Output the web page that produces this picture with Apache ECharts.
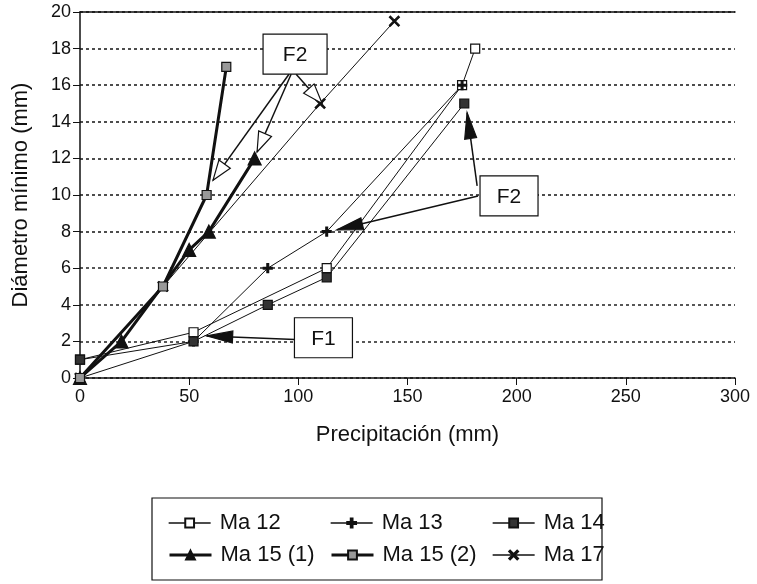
<!DOCTYPE html>
<html>
<head>
<meta charset="utf-8">
<script src="https://cdn.jsdelivr.net/npm/echarts@6/dist/echarts.min.js"></script>
<style>
  html, body { margin: 0; padding: 0; background: #fff; }
  #chart { width: 757px; height: 584px; }
</style>
</head>
<body>
<div id="chart"></div>
<script>
// datos: [precipitación, diámetro]
const ma12 = [[0, 1], [52, 2.5], [113, 6], [175, 16], [181, 18]]
const ma13 = [[0, 0], [52, 2], [86, 6], [113, 8], [175, 16]]
const ma14 = [[0, 1], [52, 2], [86, 4], [113, 5.5], [176, 15]]
const ma15a = [[0, 0], [19, 2], [50, 7], [59, 8], [80, 12]]
const ma15b = [[0, 0], [38, 5], [58, 10], [67, 17]]
const ma17 = [[0, 0], [38, 5], [110, 15], [144, 19.5]]
const seriesNames = ['Ma 12', 'Ma 13', 'Ma 14', 'Ma 15 (1)', 'Ma 15 (2)', 'Ma 17']
const xTicks = [0, 50, 100, 150, 200, 250, 300]
const yTicks = [0, 2, 4, 6, 8, 10, 12, 14, 16, 18, 20]

// anotaciones (coordenadas de datos): caja y flechas
const notes = [
  { text: 'F1', center: [111.5, 2.2], arrows: [{ from: [98.5, 2.1], to: [58, 2.3], open: false }] },
  { text: 'F2', center: [196.5, 9.95], arrows: [
    { from: [182.3, 9.95], to: [117.7, 8.1], open: false },
    { from: [181.9, 10.5], to: [177.3, 14.5], open: false }
  ] },
  { text: 'F2', center: [98.5, 17.7], arrows: [
    { from: [95.7, 16.6], to: [60.9, 10.8], open: true },
    { from: [96.7, 16.6], to: [81.1, 12.35], open: true },
    { from: [99, 16.6], to: [110.9, 15.0], open: true }
  ] }
]

const FONT = 'Liberation Sans'
const INK = '#111'
const plusPath = 'path://M4,0h2v4h4v2h-4v4h-2v-4h-4v-2h4z'
const crossPath = 'path://M0,1 L1,0 L5,4 L9,0 L10,1 L6,5 L10,9 L9,10 L5,6 L1,10 L0,9 L4,5 Z'

const chart = echarts.init(document.getElementById('chart'))

const mk = (name, data, width, symbol, size, fill) => ({
  name,
  type: 'line',
  data,
  symbol,
  symbolSize: size,
  showAllSymbol: true,
  animation: false,
  lineStyle: { color: INK, width },
  itemStyle: { color: fill, borderColor: INK, borderWidth: 1.2 },
  z: width > 2 ? 3 : 2
})

const series = [
  mk('Ma 12', ma12, 1, 'rect', 9, '#fff'),
  mk('Ma 13', ma13, 1, plusPath, 9, INK),
  mk('Ma 14', ma14, 1, 'rect', 9, '#333'),
  mk('Ma 15 (1)', ma15a, 3, 'triangle', 13, INK),
  mk('Ma 15 (2)', ma15b, 3, 'rect', 9, '#999'),
  mk('Ma 17', ma17, 1, crossPath, 10, INK)
]

// una leyenda por elemento, para alinear columnas como en el original
const legendPos = [[163, 507], [325, 507], [487, 507], [163, 539], [325, 539], [487, 539]]
const legends = seriesNames.map((n, i) => ({
  data: [n],
  left: legendPos[i][0],
  top: legendPos[i][1],
  itemWidth: 42,
  itemHeight: 11,
  itemGap: 0,
  selectedMode: false,
  lineStyle: { color: INK, width: i === 3 || i === 4 ? 3 : 1.3 },
  textStyle: { fontFamily: FONT, fontSize: 22, color: INK, padding: [0, 0, 0, 4] }
}))

chart.setOption({
  backgroundColor: '#fff',
  animation: false,
  grid: { left: 80, right: 22, top: 12, bottom: 206 },
  legend: legends,
  xAxis: [{
    type: 'value',
    min: xTicks[0],
    max: xTicks[xTicks.length - 1],
    interval: 50,
    name: 'Precipitación (mm)',
    nameLocation: 'middle',
    nameGap: 46,
    nameTextStyle: { fontFamily: FONT, fontSize: 22, color: INK },
    axisLine: { lineStyle: { color: INK, width: 1.5 } },
    axisTick: { lineStyle: { color: INK }, length: 7 },
    axisLabel: { fontFamily: FONT, fontSize: 18, color: INK, margin: 10 },
    splitLine: { show: false }
  }, {
    type: 'value',
    position: 'top',
    min: xTicks[0],
    max: xTicks[xTicks.length - 1],
    axisLine: { show: true, onZero: false, lineStyle: { color: INK, width: 1.5 } },
    axisTick: { show: false },
    axisLabel: { show: false },
    splitLine: { show: false }
  }],
  yAxis: {
    type: 'value',
    min: yTicks[0],
    max: yTicks[yTicks.length - 1],
    interval: 2,
    name: 'Diámetro mínimo (mm)',
    nameLocation: 'middle',
    nameGap: 48,
    nameTextStyle: { fontFamily: FONT, fontSize: 22, color: INK },
    axisLine: { show: true, lineStyle: { color: INK, width: 1.5 } },
    axisTick: { show: true, lineStyle: { color: INK }, length: 7 },
    axisLabel: { fontFamily: FONT, fontSize: 18, color: INK, margin: 9 },
    splitLine: { show: true, lineStyle: { color: '#222', width: 1.6, type: [3, 3] } }
  },
  series
})

// cajas y flechas de anotación, situadas con la escala de los ejes
const px = p => chart.convertToPixel({ gridIndex: 0 }, p)
const graphics = []

function arrowHead(tip, from, open) {
  const len = open ? 20 : 26
  const half = open ? 7 : 6
  const dx = tip[0] - from[0], dy = tip[1] - from[1]
  const d = Math.hypot(dx, dy)
  const ux = dx / d, uy = dy / d
  const bx = tip[0] - ux * len, by = tip[1] - uy * len
  return {
    type: 'polygon',
    shape: { points: [tip, [bx - uy * half, by + ux * half], [bx + uy * half, by - ux * half]] },
    style: { fill: open ? '#fff' : INK, stroke: INK, lineWidth: 1.2 },
    z: 20
  }
}

notes.forEach(n => {
  n.arrows.forEach(a => {
    const f = px(a.from), t = px(a.to)
    graphics.push({
      type: 'line',
      shape: { x1: f[0], y1: f[1], x2: t[0], y2: t[1] },
      style: { stroke: INK, lineWidth: 1.5 },
      z: 19
    })
    graphics.push(arrowHead(t, f, a.open))
  })
  const c = px(n.center)
  const w = n === notes[2] ? 64 : 58
  graphics.push({
    type: 'rect',
    shape: { x: c[0] - w / 2, y: c[1] - 20, width: w, height: 40 },
    style: { fill: '#fff', stroke: INK, lineWidth: 1.2 },
    z: 21
  })
  graphics.push({
    type: 'text',
    x: c[0], y: c[1] + 1,
    style: { text: n.text, font: '21px "Liberation Sans"', fill: INK, align: 'center', verticalAlign: 'middle' },
    z: 22
  })
})

// marco de la leyenda
graphics.push({
  type: 'rect',
  shape: { x: 152, y: 498, width: 450, height: 82 },
  style: { fill: 'none', stroke: INK, lineWidth: 1.2 },
  z: 1
})

chart.setOption({ graphic: graphics })
</script>
</body>
</html>
